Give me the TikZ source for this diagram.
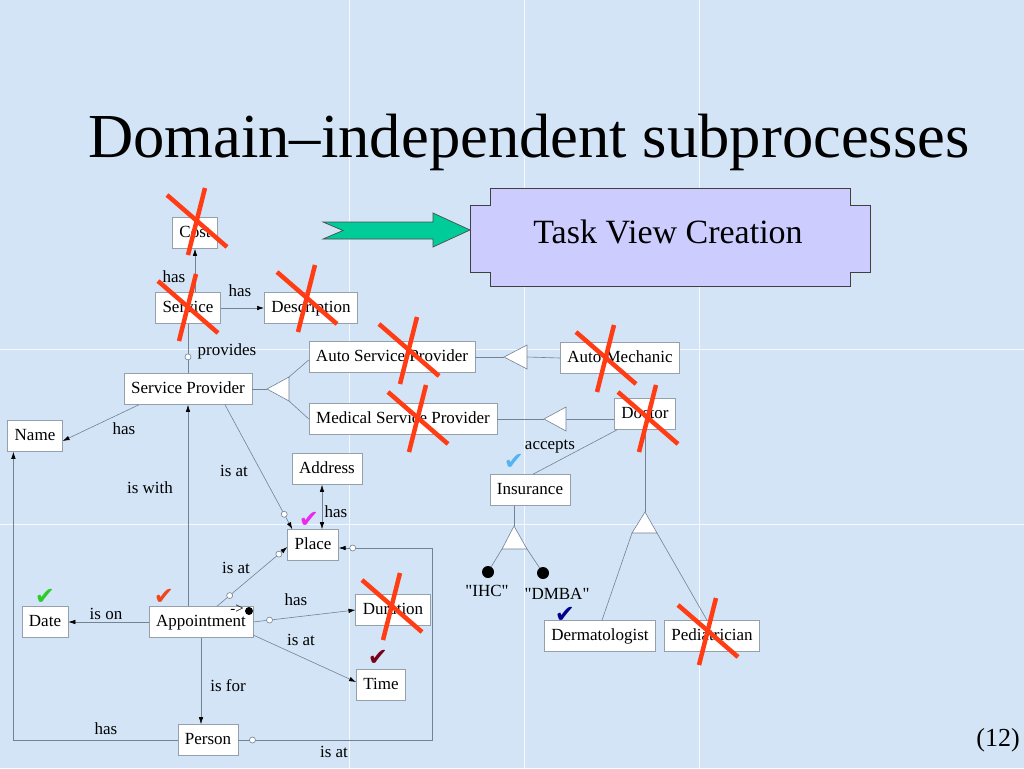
\documentclass[tikz,border=0pt]{standalone}
\usepackage{fontspec}
\setmainfont{Liberation Serif}[Ligatures=TeXOff]
\newfontfamily\symf{DejaVu Sans}
\usetikzlibrary{arrows.meta,calc}
\definecolor{bgblue}{RGB}{210,228,245}
\definecolor{boxgray}{RGB}{150,160,170}
\definecolor{linegray}{RGB}{115,130,148}
\definecolor{xred}{RGB}{255,60,20}
\definecolor{tvc}{RGB}{204,204,255}
\definecolor{arrgreen}{RGB}{0,204,153}
\definecolor{ckmag}{RGB}{235,40,235}
\definecolor{ckgreen}{RGB}{40,205,40}
\definecolor{ckorange}{RGB}{240,70,30}
\definecolor{ckdred}{RGB}{120,0,25}
\definecolor{cklblue}{RGB}{85,180,240}
\definecolor{cknavy}{RGB}{0,0,140}
\begin{document}
\begin{tikzpicture}[x=1pt,y=-1pt,
  >={Latex[length=7pt,width=4.5pt,color=black]},
  box/.style={draw=boxgray,fill=white,line width=0.6pt,minimum height=31pt,inner xsep=7pt,inner ysep=0pt,text height=12pt,text depth=4pt,font=\fontsize{17}{20}\selectfont},
  lbl/.style={inner sep=0pt,font=\fontsize{17}{20}\selectfont},
  conn/.style={draw=linegray,line width=0.6pt},
  arr/.style={conn,->},
  circ/.style={circle,draw=linegray,fill=white,inner sep=0pt,minimum size=6pt,line width=0.6pt},
  gen/.style={draw=linegray,fill=white,line width=0.6pt},
  bdot/.style={circle,fill=black,inner sep=0pt,minimum size=12pt},
  xmark/.style={draw=xred,line width=4.5pt},
  chk/.style={inner sep=0pt,font=\symf\fontsize{24}{24}\selectfont}
]
\useasboundingbox (0,0) rectangle (1024,768);
\fill[bgblue] (0,0) rectangle (1024,768);
\foreach \gx in {349,524,699} \draw[white,line width=1pt,opacity=0.8] (\gx,0) -- (\gx,768);
\foreach \gy in {349,524} \draw[white,line width=1pt,opacity=0.8] (0,\gy) -- (1024,\gy);

% title
\node[anchor=base,inner sep=0pt,font=\fontsize{62.6}{70}\selectfont] (title) at (529,157) {Domain–independent subprocesses};

% task view creation
\draw[fill=tvc,draw=black!75,line width=0.8pt] (490,188) -- (850,188) -- (850,205) -- (870,205) -- (870,272) -- (850,272) -- (850,286) -- (490,286) -- (490,272) -- (470,272) -- (470,205) -- (490,205) -- cycle;
\node[inner sep=0pt,font=\fontsize{34}{36}\selectfont] (tvc) at (668,232) {Task View Creation};
\draw[fill=arrgreen,draw=black!70,line width=0.7pt] (323,222) -- (433,222) -- (433,213) -- (470,230) -- (433,247) -- (433,239) -- (323,239) -- (343,230.5) -- cycle;

% nodes
\node[box] (cost) at (195,233) {Cost};
\node[box] (svc) at (188,308) {Service};
\node[box] (desc) at (311,308) {Description};
\node[box] (sp) at (188,389) {Service Provider};
\node[box] (name) at (35,436) {Name};
\node[box] (asp) at (392,357) {Auto Service Provider};
\node[box] (msp) at (403,419) {Medical Service Provider};
\node[box] (am) at (620,358) {Auto Mechanic};
\node[box] (doc) at (645,414) {Doctor};
\node[box] (addr) at (327,469) {Address};
\node[box] (ins) at (530,490) {Insurance};
\node[box] (place) at (313,545) {Place};
\node[box] (dur) at (393,610) {Duration};
\node[box] (date) at (45,622) {Date};
\node[box] (app) at (201,622) {Appointment};
\node[box] (time) at (381,685) {Time};
\node[box] (person) at (208,740) {Person};
\node[box] (derm) at (600,636) {Dermatologist};
\node[box] (ped) at (712,636) {Pediatrician};

% connectors
\draw[arr] (cost.south |- svc.north) -- (cost.south);
\draw[arr] (svc.east) -- (desc.west);
\draw[conn] (sp.north) -- node[circ,pos=0.33] (c1) {} (svc.south);
\draw[arr] ([xshift=15pt]sp.south west) -- ([yshift=-5pt]name.east);
\draw[arr] ([xshift=37pt]sp.south) -- node[circ,pos=0.88] (c2) {} ([xshift=5pt]place.north west);
\draw[arr] (sp.south |- app.north) -- (sp.south);
\draw[<->,conn] ([xshift=-5pt]addr.south) -- ([xshift=-5pt]addr.south |- place.north);
\draw[arr] ([xshift=16pt]app.north) -- node[circ,pos=0.18] (c3) {} node[circ,pos=0.88] (c4) {} ([yshift=-2pt]place.west);
\draw[arr] (app.west) -- (date.east);
\draw[arr] (app.east) -- node[circ,pos=0.16] (c5) {} (dur.west);
\draw[arr] ([yshift=-13pt]app.east) -- ([yshift=3pt]time.west);
\draw[arr] (app.south) -- (app.south |- person.north);
\draw[arr] (person.west) -| ([xshift=6pt]name.south west);
\draw[arr] (person.east) -- ++(194,0) |- ([yshift=-3pt]place.east);
\node[circ] (c6) at ([xshift=14pt]person.east) {};
\node[circ] (c7) at ([xshift=14pt,yshift=-3pt]place.east) {};

% generalizations
\coordinate (t1tip) at (267,389); \coordinate (t1a) at (289,377); \coordinate (t1b) at (289,401);
\draw[conn] (sp.east) -- (t1tip);
\draw[conn] (t1a) -- ([yshift=-3pt]asp.west);
\draw[conn] (t1b) -- (msp.west);
\draw[gen] (t1tip) -- (t1a) -- (t1b) -- cycle;

\coordinate (t2tip) at (504,357); \coordinate (t2a) at (527,345); \coordinate (t2b) at (527,369); \coordinate (t2m) at (527,357);
\draw[conn] (asp.east) -- (t2tip);
\draw[conn] (t2m) -- (am.west);
\draw[gen] (t2tip) -- (t2a) -- (t2b) -- cycle;

\coordinate (t3tip) at (544,419); \coordinate (t3a) at (566,407); \coordinate (t3b) at (566,431); \coordinate (t3m) at (566,419);
\draw[conn] (msp.east) -- (t3tip);
\draw[conn] (t3m) -- (t3m -| doc.west);
\draw[gen] (t3tip) -- (t3a) -- (t3b) -- cycle;

\draw[conn] ([xshift=3pt]doc.south west) -- ([xshift=3pt]ins.north);

\coordinate (t4tip) at (514,526); \coordinate (t4a) at (502,549); \coordinate (t4b) at (527,549);
\node[bdot] (ihcdot) at (488,572) {};
\node[bdot] (dmbadot) at (543,573) {};
\draw[conn] (t4tip |- ins.south) -- (t4tip);
\draw[conn] (t4a) -- (ihcdot);
\draw[conn] (t4b) -- (dmbadot);
\draw[gen] (t4tip) -- (t4a) -- (t4b) -- cycle;

\coordinate (t5tip) at (645,512); \coordinate (t5a) at (632,533); \coordinate (t5b) at (657,533);
\draw[conn] (doc.south) -- (t5tip);
\draw[conn] (t5a) -- ([xshift=2pt]derm.north);
\draw[conn] (t5b) -- ([xshift=-5pt]ped.north);
\draw[gen] (t5tip) -- (t5a) -- (t5b) -- cycle;

% labels
\node[lbl] (l1) at (174,277) {has};
\node[lbl] (l2) at (240,291) {has};
\node[lbl] (l3) at (227,351) {provides};
\node[lbl] (l4) at (124,429) {has};
\node[lbl] (l5) at (234,471) {is at};
\node[lbl] (l6) at (150,488) {is with};
\node[lbl] (l7) at (336,512) {has};
\node[lbl] (l8) at (236,568) {is at};
\node[lbl] (l9) at (106,614) {is on};
\node[lbl] (l10) at (296,600) {has};
\node[lbl] (l11) at (301,640) {is at};
\node[lbl] (l12) at (228,686) {is for};
\node[lbl] (l13) at (106,729) {has};
\node[lbl] (l14) at (334,752) {is at};
\node[lbl] (l15) at (550,447) {accepts};
\node[lbl] (ihc) at (487,591) {"IHC"};
\node[lbl] (dmba) at (557,594) {"DMBA"};
\node[inner sep=0pt,font=\fontsize{15}{16}\selectfont] (arrtxt) at (237,609) {->};
\node[circle,fill=black,inner sep=0pt,minimum size=8pt] (adot) at (249,611) {};
\node[inner sep=0pt,font=\fontsize{26}{28}\selectfont] (pg) at (998,740) {(12)};

% check marks
\node[chk,text=ckmag] (k1) at (309,520) {✔};
\node[chk,text=ckgreen] (k2) at (45,597) {✔};
\node[chk,text=ckorange] (k3) at (164,597) {✔};
\node[chk,text=ckdred] (k4) at (378,658) {✔};
\node[chk,text=cklblue] (k5) at (514,462) {✔};
\node[chk,text=cknavy] (k6) at (565,615) {✔};

% red crosses
\foreach \cx/\cy in {197/221,188/307,307/298,409/350,418/418,606/358,648/418,392/606,708/631}{
  \draw[xmark] (\cx-30,\cy-26) -- (\cx+30,\cy+26);
  \draw[xmark] (\cx+8,\cy-33) -- (\cx-9,\cy+34);
}
\end{tikzpicture}
\end{document}
